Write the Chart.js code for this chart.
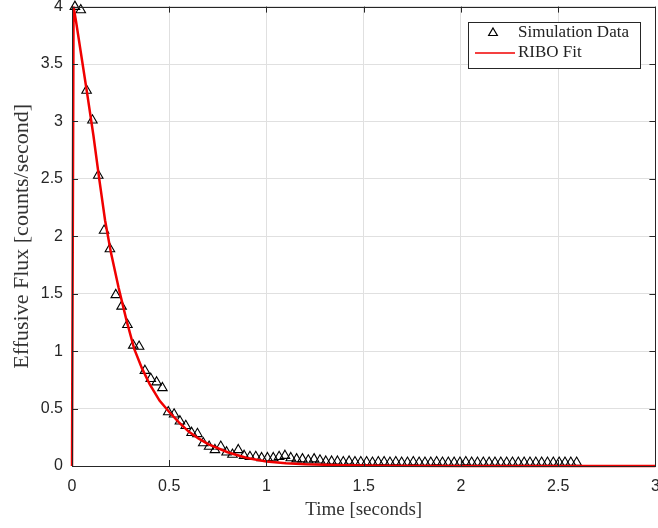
<!DOCTYPE html>
<html lang="en">
<head>
    <meta charset="UTF-8">
    <title>Effusive Flux vs Time</title>
    <script src="https://cdn.jsdelivr.net/npm/chart.js"></script>
    <style>
        body {
            margin: 0;
            background: #fff;
            overflow: hidden;
        }
        #wrap {
            width: 658px;
            height: 528px;
            overflow: hidden;
        }
    </style>
</head>
<body>
    <div id="wrap">
        <canvas id="fluxChart" width="662" height="528"></canvas>
    </div>

    <script>
        // simulation samples (triangles)
        const simTime = [0.015, 0.045, 0.075, 0.105, 0.135, 0.165, 0.195, 0.225, 0.255, 0.285,
            0.315, 0.345, 0.375, 0.405, 0.435, 0.465, 0.495, 0.525, 0.555, 0.585,
            0.615, 0.645, 0.675, 0.705, 0.735, 0.765, 0.795, 0.825, 0.855, 0.885,
            0.915, 0.945, 0.975, 1.005, 1.035, 1.065, 1.095, 1.125, 1.155, 1.185,
            1.215, 1.245, 1.275, 1.305, 1.335, 1.365, 1.395, 1.425, 1.455, 1.485,
            1.515, 1.545, 1.575, 1.605, 1.635, 1.665, 1.695, 1.725, 1.755, 1.785,
            1.815, 1.845, 1.875, 1.905, 1.935, 1.965, 1.995, 2.025, 2.055, 2.085,
            2.115, 2.145, 2.175, 2.205, 2.235, 2.265, 2.295, 2.325, 2.355, 2.385,
            2.415, 2.445, 2.475, 2.505, 2.535, 2.565, 2.595];
        const simFlux = [4.00, 3.97, 3.27, 3.01, 2.53, 2.05, 1.89, 1.49, 1.39, 1.23,
            1.05, 1.04, 0.83, 0.76, 0.73, 0.68, 0.47, 0.45, 0.39, 0.35,
            0.29, 0.28, 0.20, 0.17, 0.14, 0.17, 0.12, 0.10, 0.14, 0.09,
            0.08, 0.08, 0.07, 0.07, 0.07, 0.08, 0.09, 0.07, 0.06, 0.06,
            0.05, 0.06, 0.05, 0.04, 0.04, 0.04, 0.035, 0.04, 0.035, 0.035,
            0.035, 0.03, 0.035, 0.035, 0.03, 0.035, 0.03, 0.03, 0.035, 0.03,
            0.03, 0.03, 0.035, 0.03, 0.03, 0.03, 0.03, 0.035, 0.03, 0.03,
            0.03, 0.03, 0.03, 0.03, 0.03, 0.03, 0.03, 0.03, 0.03, 0.03,
            0.03, 0.03, 0.03, 0.03, 0.03, 0.03, 0.03];

        // RIBO fit curve (red line)
        const fitTime = [0, 0.008, 0.02, 0.05, 0.08, 0.11, 0.14, 0.17, 0.2, 0.24,
            0.28, 0.32, 0.36, 0.4, 0.45, 0.5, 0.55, 0.6, 0.65, 0.7,
            0.8, 0.9, 1.0, 1.1, 1.2, 1.4, 1.6, 2.0, 2.6, 3.0];
        const fitFlux = [0, 4.0, 3.88, 3.55, 3.22, 2.88, 2.5, 2.14, 1.86, 1.55,
            1.27, 1.02, 0.85, 0.71, 0.57, 0.47, 0.38, 0.30, 0.24, 0.19,
            0.12, 0.07, 0.04, 0.025, 0.015, 0.006, 0.003, 0.001, 0.001, 0];

        const xTicks = [0, 0.5, 1, 1.5, 2, 2.5, 3];
        const yTicks = [0, 0.5, 1, 1.5, 2, 2.5, 3, 3.5, 4];

        const legendLabels = ['Simulation Data', 'RIBO Fit'];

        const axisColor = '#262626';
        const gridColor = '#e0e0e0';
        const fitColor = '#f00000';
        const serif = "'Liberation Serif', 'DejaVu Serif', serif";
        const sans = "'Liberation Sans', Arial, sans-serif";

        // MATLAB-like box with inward ticks, plus the legend box
        const boxPlugin = {
            id: 'matlabBox',
            afterDatasetsDraw(chart) {
                const { ctx, chartArea: a, scales } = chart;
                ctx.save();
                ctx.strokeStyle = axisColor;
                ctx.lineWidth = 1;
                ctx.beginPath();
                scales.x.ticks.forEach(t => {
                    const px = Math.round(scales.x.getPixelForValue(t.value)) + 0.5;
                    ctx.moveTo(px, a.bottom); ctx.lineTo(px, a.bottom - 6);
                    ctx.moveTo(px, a.top); ctx.lineTo(px, a.top + 6);
                });
                scales.y.ticks.forEach(t => {
                    const py = Math.round(scales.y.getPixelForValue(t.value)) + 0.5;
                    ctx.moveTo(a.left, py); ctx.lineTo(a.left + 6, py);
                    ctx.moveTo(a.right, py); ctx.lineTo(a.right - 6, py);
                });
                ctx.stroke();
                ctx.strokeRect(Math.round(a.left) + 0.5, Math.round(a.top) + 0.5,
                    Math.round(a.right - a.left), Math.round(a.bottom - a.top));
                ctx.restore();
            },
            afterDraw(chart) {
                const { ctx } = chart;
                const bx = 468, by = 22, bw = 172, bh = 46;
                ctx.save();
                ctx.fillStyle = '#fff';
                ctx.fillRect(bx, by, bw, bh);
                ctx.strokeStyle = axisColor;
                ctx.lineWidth = 1;
                ctx.strokeRect(bx + 0.5, by + 0.5, bw, bh);

                // triangle marker
                ctx.beginPath();
                const cx = 493, cy = 33, r = 5;
                ctx.moveTo(cx, cy - r);
                ctx.lineTo(cx + r * 0.87, cy + r * 0.5);
                ctx.lineTo(cx - r * 0.87, cy + r * 0.5);
                ctx.closePath();
                ctx.strokeStyle = '#000';
                ctx.lineWidth = 1.2;
                ctx.stroke();

                // fit line
                ctx.beginPath();
                ctx.moveTo(475, 53);
                ctx.lineTo(515, 53);
                ctx.strokeStyle = fitColor;
                ctx.lineWidth = 1.5;
                ctx.stroke();

                ctx.fillStyle = '#222';
                ctx.font = '17px ' + serif;
                ctx.textBaseline = 'middle';
                ctx.fillText(legendLabels[0], 518, 33);
                ctx.fillText(legendLabels[1], 518, 53);
                ctx.restore();
            }
        };

        const ctx = document.getElementById('fluxChart').getContext('2d');
        const fluxChart = new Chart(ctx, {
            type: 'scatter',
            data: {
                datasets: [{
                    label: legendLabels[1],
                    type: 'line',
                    data: fitTime.map((t, i) => ({ x: t, y: fitFlux[i] })),
                    borderColor: fitColor,
                    borderWidth: 2.5,
                    pointRadius: 0,
                    tension: 0,
                    fill: false,
                    order: 0,
                    clip: false
                }, {
                    label: legendLabels[0],
                    data: simTime.map((t, i) => ({ x: t, y: simFlux[i] })),
                    pointStyle: 'triangle',
                    pointRadius: 5.5,
                    pointBorderWidth: 1.1,
                    borderColor: '#000',
                    backgroundColor: 'rgba(0,0,0,0)',
                    showLine: false,
                    order: 1,
                    clip: false
                }]
            },
            options: {
                responsive: false,
                animation: false,
                devicePixelRatio: 1,
                layout: { padding: { top: 5, right: 0, left: 0, bottom: 0 } },
                plugins: {
                    legend: { display: false },
                    tooltip: { enabled: false }
                },
                scales: {
                    x: {
                        type: 'linear',
                        min: 0,
                        max: 3,
                        afterBuildTicks: s => { s.ticks = xTicks.map(v => ({ value: v })); },
                        afterFit: s => { s.height = 62; s.paddingLeft = 0; s.paddingRight = 0; },
                        grid: { color: gridColor, drawTicks: false },
                        border: { color: axisColor },
                        ticks: {
                            padding: 11,
                            color: axisColor,
                            font: { family: sans, size: 16 },
                            callback: v => String(v)
                        },
                        title: {
                            display: true,
                            text: 'Time [seconds]',
                            color: '#333',
                            font: { family: serif, size: 19 },
                            padding: { top: 0, bottom: 7 }
                        }
                    },
                    y: {
                        type: 'linear',
                        min: 0,
                        max: 4,
                        afterBuildTicks: s => { s.ticks = yTicks.map(v => ({ value: v })); },
                        afterFit: s => { s.width = 72; s.paddingTop = 0; s.paddingBottom = 0; },
                        grid: { color: gridColor, drawTicks: false },
                        border: { color: axisColor },
                        ticks: {
                            padding: 9,
                            color: axisColor,
                            font: { family: sans, size: 16 },
                            callback: v => String(v)
                        },
                        title: {
                            display: true,
                            text: 'Effusive Flux [counts/second]',
                            color: '#333',
                            font: { family: serif, size: 22 },
                            padding: { top: 9, bottom: 0 }
                        }
                    }
                }
            },
            plugins: [boxPlugin]
        });
    </script>
</body>
</html>
